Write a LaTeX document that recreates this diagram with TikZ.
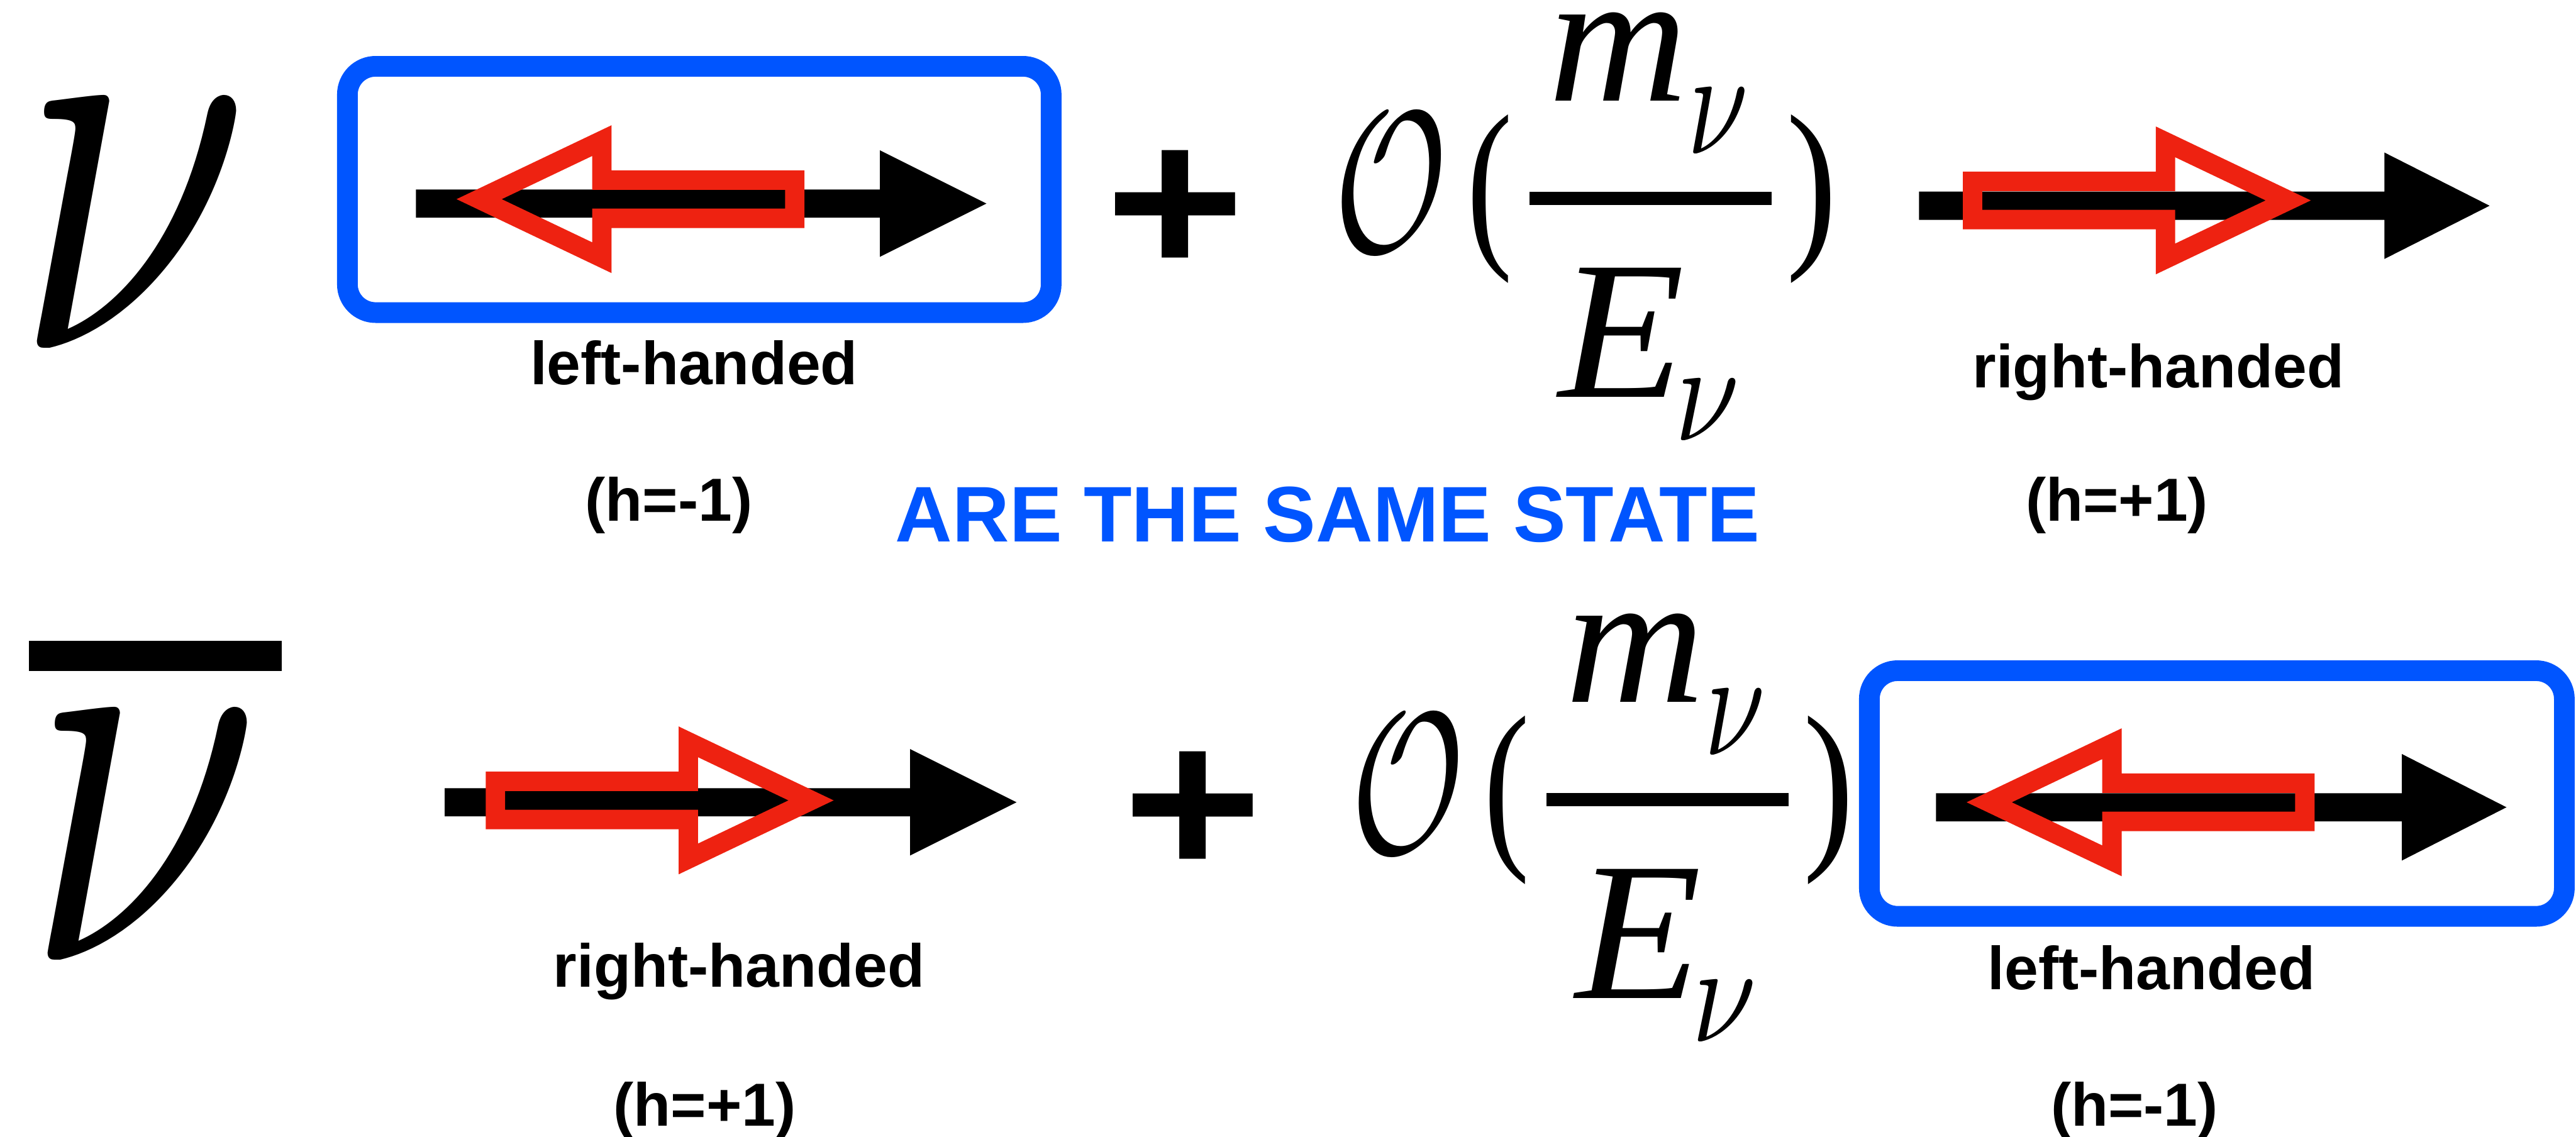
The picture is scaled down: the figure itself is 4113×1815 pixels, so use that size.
\documentclass[tikz,border=0pt]{standalone}
\usepackage{fontspec}
\usepackage{graphicx}
\setmainfont{Liberation Sans}
\newfontfamily\tim{Liberation Serif}
\definecolor{myblue}{RGB}{0,85,255}
\definecolor{myred}{RGB}{238,34,17}
\newcommand\fitglyph[3]{\resizebox*{#1cm}{#2cm}{#3}}
\newcommand\blackarr[4]{\fill[black] ({#1},{#4-22.5}) -- ({#2},{#4-22.5}) -- ({#2},{#4-85}) -- ({#3},{#4}) -- ({#2},{#4+85}) -- ({#2},{#4+22.5}) -- ({#1},{#4+22.5}) -- cycle;}
\tikzset{
  redhollow/.pic={\draw[myred,line width=0.31cm,miter limit=10] (196,0) -- (0,-93.5) -- (0,-30.5) -- (-308,-30.5) -- (-308,30.5) -- (0,30.5) -- (0,93.5) -- cycle;},
  bluebox/.style={draw=myblue,line width=0.33cm,rounded corners=0.45cm,inner sep=0pt},
  glyph/.style={inner sep=0pt,outer sep=0pt},
  lbl/.style={inner sep=0pt,anchor=base,font=\bfseries\fontsize{27.6pt}{30pt}\selectfont},
  big/.style={inner sep=0pt,anchor=base,text=myblue,font=\bfseries\fontsize{35.8pt}{40pt}\selectfont}
}
\begin{document}
\begin{tikzpicture}[x=0.01cm,y=-0.01cm]
\useasboundingbox (0,0) rectangle (4113,1815);
% top row
\node[glyph] (nu1) at (212,359.5) {\fitglyph{3.76}{3.93}{$\nu$}};
\node[bluebox,minimum width=11.23cm,minimum height=3.93cm] (box1) at (1116.5,302.5) {};
\blackarr{664}{1405}{1575}{325}
\pic at (961,318) [xscale=-1] {redhollow};
\node[lbl] (lh1) at (1108,614) {left-handed};
\node[lbl] (hm1) at (1068,832) {(h=-1)};
\node[glyph] (plus1) at (1876,339) {\fitglyph{2.23}{1.98}{\bfseries +}};
\node[glyph] (O1) at (2220.5,292) {\fitglyph{1.81}{2.20}{$\mathcal{O}$}};
\node[glyph] (lp1) at (2378.5,317.5) {\fitglyph{0.73}{2.69}{\tim (}};
\node[glyph] (rp1) at (2892.5,317.5) {\fitglyph{0.81}{2.69}{\tim )}};
\fill (2442,306) rectangle (2829,327);
\node[glyph] (m1) at (2584,90.5) {\fitglyph{2.22}{1.41}{\tim\itshape m}};
\node[glyph] (mn1) at (2743.5,193) {\fitglyph{0.97}{1.04}{$\nu$}};
\node[glyph] (E1) at (2589.5,531) {\fitglyph{2.01}{2.06}{\tim\itshape E}};
\node[glyph] (En1) at (2726.5,654.5) {\fitglyph{1.03}{0.97}{$\nu$}};
\blackarr{3064}{3807}{3975}{328.5}
\pic at (3457.5,320) {redhollow};
\node[lbl] (rh1) at (3446,619) {right-handed};
\node[lbl] (hp1) at (3380,832) {(h=+1)};
\node[big] (same) at (2120,865) {ARE THE SAME STATE};
% bottom row
\fill (46,1023) rectangle (450,1071);
\node[glyph] (nu2) at (229,1336) {\fitglyph{3.76}{3.93}{$\nu$}};
\blackarr{710}{1453}{1623}{1281}
\pic at (1099,1278) {redhollow};
\node[lbl] (rh2) at (1180,1576) {right-handed};
\node[lbl] (hp2) at (1125,1798) {(h=+1)};
\node[glyph] (plus2) at (1904,1299) {\fitglyph{2.23}{1.98}{\bfseries +}};
\begin{scope}[shift={(27,960)}]
\node[glyph] (O2) at (2220.5,292) {\fitglyph{1.81}{2.20}{$\mathcal{O}$}};
\node[glyph] (lp2) at (2378.5,317.5) {\fitglyph{0.73}{2.69}{\tim (}};
\node[glyph] (rp2) at (2892.5,317.5) {\fitglyph{0.81}{2.69}{\tim )}};
\fill (2442,306) rectangle (2829,327);
\node[glyph] (m2) at (2584,90.5) {\fitglyph{2.22}{1.41}{\tim\itshape m}};
\node[glyph] (mn2) at (2743.5,193) {\fitglyph{0.97}{1.04}{$\nu$}};
\node[glyph] (E2) at (2589.5,531) {\fitglyph{2.01}{2.06}{\tim\itshape E}};
\node[glyph] (En2) at (2726.5,654.5) {\fitglyph{1.03}{0.97}{$\nu$}};
\end{scope}
\node[bluebox,minimum width=11.09cm,minimum height=3.92cm] (box2) at (3539.5,1267) {};
\blackarr{3091}{3835}{4002}{1289}
\pic at (3372,1281) [xscale=-1] {redhollow};
\node[lbl] (lh2) at (3435,1580) {left-handed};
\node[lbl] (hm2) at (3408,1798) {(h=-1)};
\end{tikzpicture}
\end{document}
